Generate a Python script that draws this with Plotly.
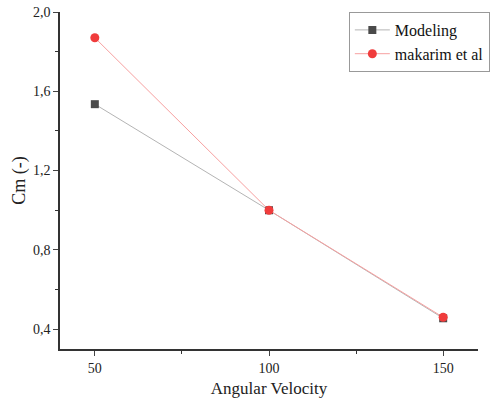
import plotly.graph_objects as go

x_vals = [50, 100, 150]
modeling = [1.535, 1.0, 0.455]
makarim = [1.87, 1.0, 0.46]
y_ticks = [0.4, 0.8, 1.2, 1.6, 2.0]
x_ticks = [50, 100, 150]

font = "Liberation Serif"
fig = go.Figure()
fig.add_trace(go.Scatter(x=x_vals, y=modeling, name="Modeling", mode="lines+markers",
                         line=dict(color="#b4b4b4", width=1),
                         marker=dict(symbol="square", size=8, color="#4a4a4a")))
fig.add_trace(go.Scatter(x=x_vals, y=makarim, name="makarim et al", mode="lines+markers",
                         line=dict(color="#f7a0a0", width=1),
                         marker=dict(symbol="circle", size=9, color="#f03c3c")))

fig.update_layout(
    width=492, height=407,
    margin=dict(l=60, r=14, t=12, b=58, autoexpand=False),
    plot_bgcolor="white", paper_bgcolor="white",
    separators=",.",
    font=dict(family=font, size=14, color="#222"),
    legend=dict(x=0.691, y=1.0, xanchor="left", yanchor="top",
                bordercolor="#999", borderwidth=1, font=dict(size=16, family=font, color="#111"),
                bgcolor="white", tracegroupgap=0, itemwidth=35),
    xaxis=dict(range=[40, 160], tickvals=x_ticks, ticks="outside", ticklen=5, automargin=False,
               showline=True, linecolor="#333", linewidth=1.5, showgrid=False, zeroline=False,
               minor=dict(tickvals=[75, 125], ticks="outside", ticklen=3, tickcolor="#333"),
               title=dict(text="Angular Velocity", font=dict(size=17, family=font), standoff=8),
               tickfont=dict(size=14), ticklabeloverflow="allow"),
    yaxis=dict(range=[0.3, 2.0], tickvals=y_ticks, tickformat=".1f", ticks="outside", ticklen=5, automargin=False,
               showline=True, linecolor="#333", linewidth=1.5, showgrid=False, zeroline=False,
               minor=dict(tickvals=[0.6, 1.0, 1.4, 1.8], ticks="outside", ticklen=3, tickcolor="#333"),
               title=dict(text="Cm (-)", font=dict(size=18, family=font), standoff=3),
               tickfont=dict(size=14), ticklabeloverflow="allow"),
)
fig.write_html("out.html", config={"displayModeBar": False},
               post_script="document.body.style.margin='0';document.body.style.overflow='hidden';")
